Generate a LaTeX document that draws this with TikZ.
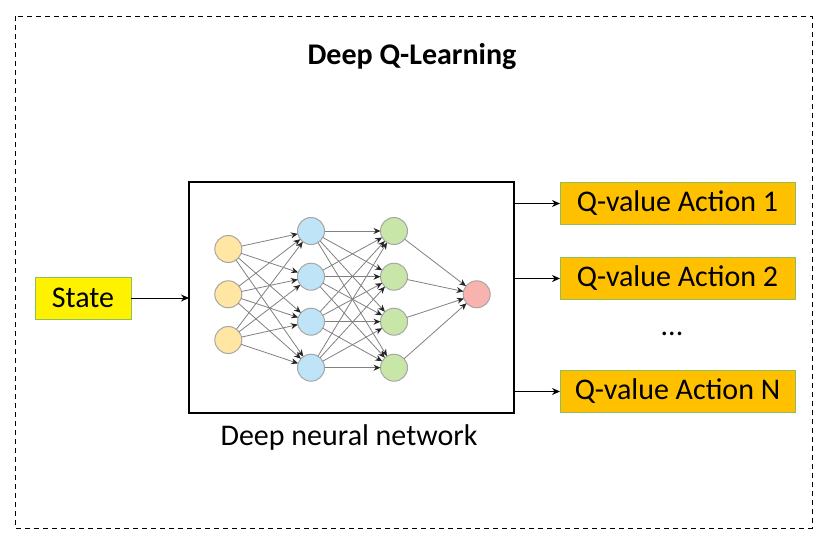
\documentclass[tikz,border=0pt]{standalone}
\usepackage{fontspec}
\setmainfont{Carlito}
\usetikzlibrary{arrows.meta}
\definecolor{qorange}{HTML}{FFC000}
\definecolor{qgreen}{HTML}{8CBF5A}
\definecolor{nyellow}{HTML}{FFE6A3}
\definecolor{nblue}{HTML}{BFE3F7}
\definecolor{ngreen}{HTML}{C8E6A8}
\definecolor{nred}{HTML}{F9B3AE}
\tikzset{
  every node/.style={inner sep=0pt, outer sep=0pt},
  neuron/.style={circle, minimum size=27pt, draw=black!35, line width=1pt},
  nnedge/.style={draw=black!50, line width=0.8pt, -{Stealth[length=7pt,width=6pt,black!85]}},
  qbox/.style={draw=qgreen, fill=qorange, line width=1pt, minimum width=235pt, minimum height=42pt, font=\fontsize{30}{34}\selectfont},
  conn/.style={draw=black, line width=1pt, -{Stealth[length=8pt,width=7pt]}},
}
\begin{document}
\begin{tikzpicture}[x=1pt,y=-1pt]
\useasboundingbox (0,0) rectangle (834,549);
\draw[dashed, line width=0.9pt, dash pattern=on 5pt off 4pt] (15,16) rectangle (812,528);
\node[font=\bfseries\fontsize{30}{34}\selectfont] (title) at (412,57) {Deep Q-Learning};
\node[draw=black, line width=1.2pt, minimum width=325pt, minimum height=231pt] (dnn) at (351.5,297.5) {};
\node[font=\fontsize{30}{34}\selectfont] (dnnlabel) at (349,437) {Deep neural network};
\node[draw=qgreen, fill=yellow, line width=1pt, minimum width=96pt, minimum height=42pt, font=\fontsize{30}{34}\selectfont] (state) at (83,298) {State};
\draw[conn] (state.east) -- (dnn.west |- state.east);
\node[qbox] (q1) at (677.5,203.5) {Q-value Action 1};
\node[qbox] (q2) at (677.5,278.5) {Q-value Action 2};
\node[qbox] (qn) at (677.5,391.5) {Q-value Action N};
\node[font=\fontsize{30}{34}\selectfont] (dots) at (672,334) {...};
\draw[conn] (dnn.east |- q1.west) -- (q1.west);
\draw[conn] (dnn.east |- q2.west) -- (q2.west);
\draw[conn] (dnn.east |- qn.west) -- (qn.west);
% neurons
\foreach \i/\y in {1/249,2/294.3,3/340} \node[neuron, fill=nyellow] (a\i) at (228.3,\y) {};
\foreach \i/\y in {1/231,2/276.7,3/321.7,4/367.7} \node[neuron, fill=nblue] (b\i) at (311,\y) {};
\foreach \i/\y in {1/231,2/276.7,3/321.7,4/367.7} \node[neuron, fill=ngreen] (c\i) at (394,\y) {};
\node[neuron, fill=nred] (d1) at (476.7,294.3) {};
\foreach \i in {1,2,3} \foreach \j in {1,2,3,4} \draw[nnedge] (a\i) -- (b\j);
\foreach \i in {1,2,3,4} \foreach \j in {1,2,3,4} \draw[nnedge] (b\i) -- (c\j);
\foreach \i in {1,2,3,4} \draw[nnedge] (c\i) -- (d1);
\end{tikzpicture}
\end{document}
